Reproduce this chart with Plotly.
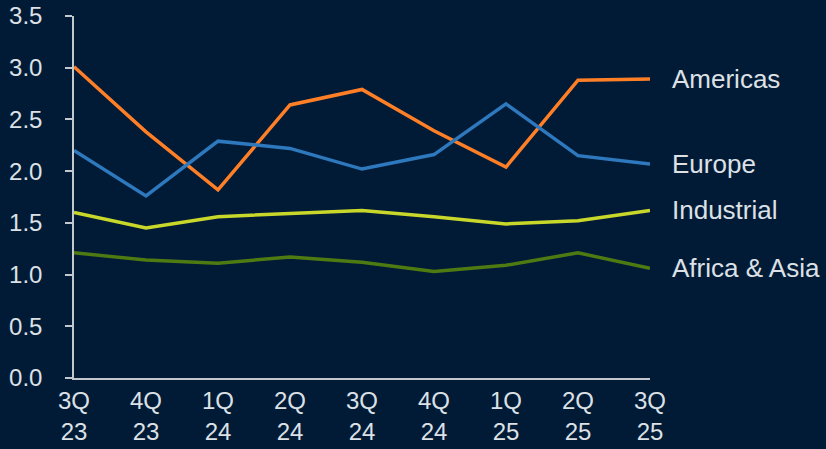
import plotly.graph_objects as go

# Quarterly series by region
quarters = ["3Q<br>23", "4Q<br>23", "1Q<br>24", "2Q<br>24", "3Q<br>24",
            "4Q<br>24", "1Q<br>25", "2Q<br>25", "3Q<br>25"]
americas = [3.01, 2.38, 1.82, 2.64, 2.79, 2.39, 2.04, 2.88, 2.89]
europe = [2.20, 1.76, 2.29, 2.22, 2.02, 2.16, 2.65, 2.15, 2.07]
industrial = [1.60, 1.45, 1.56, 1.59, 1.62, 1.56, 1.49, 1.52, 1.62]
africa_asia = [1.21, 1.14, 1.11, 1.17, 1.12, 1.03, 1.09, 1.21, 1.06]
y_ticks = [0.0, 0.5, 1.0, 1.5, 2.0, 2.5, 3.0, 3.5]

series = [
    ("Americas", americas, "#ff7f27"),
    ("Europe", europe, "#2e78bd"),
    ("Industrial", industrial, "#c8d72a"),
    ("Africa & Asia", africa_asia, "#4e7a12"),
]

BG = "#011b37"
TXT = "#dde1e6"
FONT = "Liberation Sans, Arial, sans-serif"

x_idx = list(range(len(quarters)))

fig = go.Figure()
for name, vals, color in series:
    fig.add_trace(go.Scatter(
        x=x_idx, y=vals, mode="lines", name=name,
        line=dict(color=color, width=3.5), cliponaxis=False,
    ))
    fig.add_annotation(
        x=x_idx[-1], y=vals[-1], xref="x", yref="y",
        text=name, showarrow=False, xanchor="left", yanchor="middle",
        xshift=20, font=dict(family=FONT, size=26, color=TXT),
    )

fig.update_layout(
    width=826, height=449,
    paper_bgcolor=BG, plot_bgcolor=BG,
    margin=dict(l=74, r=176, t=16, b=71),
    showlegend=False,
    font=dict(family=FONT, size=24, color=TXT),
)
fig.update_xaxes(
    range=[0, len(quarters) - 1], automargin=False,
    tickmode="array", tickvals=x_idx, ticktext=quarters,
    showgrid=False, zeroline=False,
    showline=True, linecolor="#c3c8ce", linewidth=1.5,
    ticks="", tickfont=dict(size=24, color=TXT),
)
fig.update_yaxes(
    range=[0, 3.5], automargin=False,
    tickmode="array", tickvals=y_ticks,
    ticktext=[f"{v:.1f}" for v in y_ticks],
    showgrid=False, zeroline=False,
    showline=True, linecolor="#c3c8ce", linewidth=1.5,
    ticks="outside", ticklen=7, tickwidth=1.5, tickcolor="#c3c8ce",
    ticklabelstandoff=18,
    tickfont=dict(size=24, color=TXT),
)

fig.write_html("out.html")
